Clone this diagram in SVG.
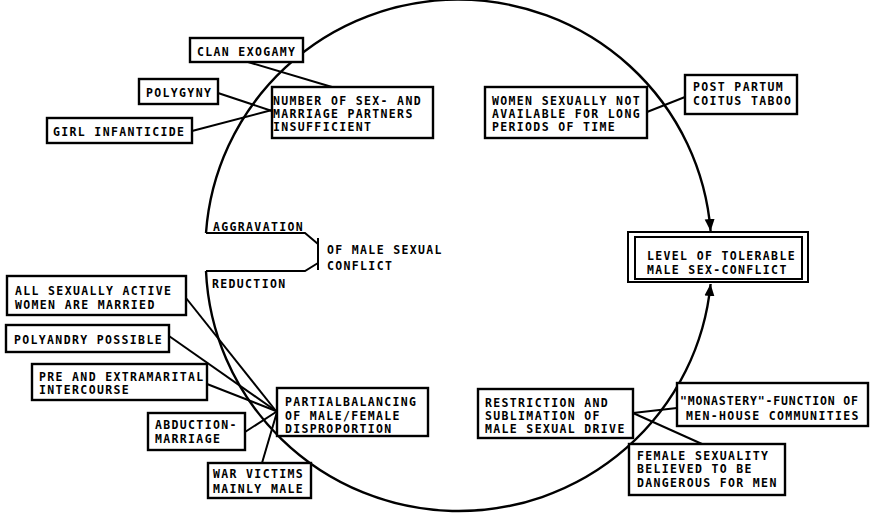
<svg xmlns="http://www.w3.org/2000/svg" width="878" height="513" viewBox="0 0 878 513">
  <style>
    .box { fill: #fff; stroke: #000; stroke-width: 2.4; }
    .ln { fill: none; stroke: #000; stroke-width: 2; }
    .arc { fill: none; stroke: #000; stroke-width: 2.4; }
    text { font-family: "DejaVu Sans Mono", "Liberation Mono", monospace; font-weight: bold; font-size: 11.5px; letter-spacing: 1.35px; fill: #000; }
    text.tight { letter-spacing: 0.85px; }
  </style>
  <defs>
    <marker id="arrow" markerUnits="userSpaceOnUse" markerWidth="12" markerHeight="12" viewBox="0 0 12 10" refX="12" refY="5" orient="auto">
      <path d="M0,0 L12,5 L0,10 Z" fill="#000"/>
    </marker>
  </defs>
  <rect width="878" height="513" fill="#fff"/>

  <!-- connectors -->
  <g id="connectors">
    <!-- the feedback loop around the centre -->
    <path class="arc" d="M206,233 A253 251 0 0 1 710.6,231" marker-end="url(#arrow)"/>
    <path class="arc" d="M206,271 A253 251 0 0 0 710.6,284" marker-end="url(#arrow)"/>
    <!-- aggravation / reduction bracket -->
    <path class="ln" d="M206,233 H305 L318,244"/>
    <path class="ln" d="M206,271 H305 L318,263"/>
    <path class="ln" d="M318,238 V270"/>
    <!-- causes feeding the upper box -->
    <path class="ln" d="M248,62 L332,87"/>
    <path class="ln" d="M218,93 L272,111"/>
    <path class="ln" d="M192,131 L272,110"/>
    <!-- post partum -->
    <path class="ln" d="M647,112 L685,97"/>
    <!-- causes feeding the balancing box -->
    <path class="ln" d="M186,298 L276,411"/>
    <path class="ln" d="M169,336 L276,411"/>
    <path class="ln" d="M207,384 L276,411"/>
    <path class="ln" d="M245,432 L276,412"/>
    <path class="ln" d="M262,463 L277,412"/>
    <!-- restriction box -->
    <path class="ln" d="M633,413 L677,408"/>
    <path class="ln" d="M633,413 L702,444"/>
  </g>

  <g id="clan-exogamy">
    <rect class="box" x="190" y="38" width="113" height="24"/>
    <text x="197" y="56">CLAN EXOGAMY</text>
  </g>
  <g id="polygyny">
    <rect class="box" x="139" y="79" width="79" height="25"/>
    <text x="146" y="97">POLYGYNY</text>
  </g>
  <g id="girl-infanticide">
    <rect class="box" x="47" y="118" width="145" height="25"/>
    <text x="53" y="136">GIRL INFANTICIDE</text>
  </g>
  <g id="partners-insufficient">
    <rect class="box" x="272" y="87" width="161" height="51"/>
    <text x="273" y="105">NUMBER OF SEX- AND</text>
    <text x="273" y="118">MARRIAGE PARTNERS</text>
    <text x="273" y="131">INSUFFICIENT</text>
  </g>
  <g id="women-not-available">
    <rect class="box" x="485" y="87" width="162" height="51"/>
    <text x="492" y="105">WOMEN SEXUALLY NOT</text>
    <text x="492" y="118">AVAILABLE FOR LONG</text>
    <text x="492" y="131">PERIODS OF TIME</text>
  </g>
  <g id="post-partum">
    <rect class="box" x="685" y="75" width="112" height="39"/>
    <text x="693" y="91">POST PARTUM</text>
    <text x="693" y="105">COITUS TABOO</text>
  </g>
  <g id="male-conflict">
    <text x="213" y="231">AGGRAVATION</text>
    <text x="212" y="288">REDUCTION</text>
    <text x="327" y="254">OF MALE SEXUAL</text>
    <text x="327" y="270">CONFLICT</text>
  </g>
  <g id="tolerable-level">
    <rect x="628" y="232" width="180" height="50" fill="#fff" stroke="#000" stroke-width="2"/>
    <rect x="635" y="237" width="167" height="42" fill="none" stroke="#000" stroke-width="2"/>
    <text x="647" y="260">LEVEL OF TOLERABLE</text>
    <text x="647" y="274">MALE SEX-CONFLICT</text>
  </g>
  <g id="all-married">
    <rect class="box" x="7" y="276" width="179" height="39"/>
    <text x="15" y="295">ALL SEXUALLY ACTIVE</text>
    <text x="15" y="309">WOMEN ARE MARRIED</text>
  </g>
  <g id="polyandry">
    <rect class="box" x="6" y="325" width="163" height="27"/>
    <text x="14" y="344">POLYANDRY POSSIBLE</text>
  </g>
  <g id="extramarital">
    <rect class="box" x="32" y="364" width="175" height="36"/>
    <text x="39" y="381">PRE AND EXTRAMARITAL</text>
    <text x="39" y="394">INTERCOURSE</text>
  </g>
  <g id="abduction">
    <rect class="box" x="148" y="413" width="97" height="37"/>
    <text x="155" y="429">ABDUCTION-</text>
    <text x="155" y="443">MARRIAGE</text>
  </g>
  <g id="war-victims">
    <rect class="box" x="208" y="463" width="103" height="35"/>
    <text x="213" y="478">WAR VICTIMS</text>
    <text x="213" y="493">MAINLY MALE</text>
  </g>
  <g id="partial-balancing">
    <rect class="box" x="277" y="388" width="151" height="48"/>
    <text x="285" y="406">PARTIALBALANCING</text>
    <text x="285" y="420">OF MALE/FEMALE</text>
    <text x="285" y="433">DISPROPORTION</text>
  </g>
  <g id="restriction">
    <rect class="box" x="478" y="389" width="155" height="49"/>
    <text x="485" y="407">RESTRICTION AND</text>
    <text x="485" y="420">SUBLIMATION OF</text>
    <text x="485" y="433">MALE SEXUAL DRIVE</text>
  </g>
  <g id="monastery">
    <rect class="box" x="677" y="383" width="191" height="43"/>
    <text class="tight" x="680" y="405">"MONASTERY"-FUNCTION OF</text>
    <text x="686" y="420">MEN-HOUSE COMMUNITIES</text>
  </g>
  <g id="female-danger">
    <rect class="box" x="629" y="444" width="156" height="51"/>
    <text x="637" y="460">FEMALE SEXUALITY</text>
    <text x="637" y="473">BELIEVED TO BE</text>
    <text x="637" y="487">DANGEROUS FOR MEN</text>
  </g>
</svg>
